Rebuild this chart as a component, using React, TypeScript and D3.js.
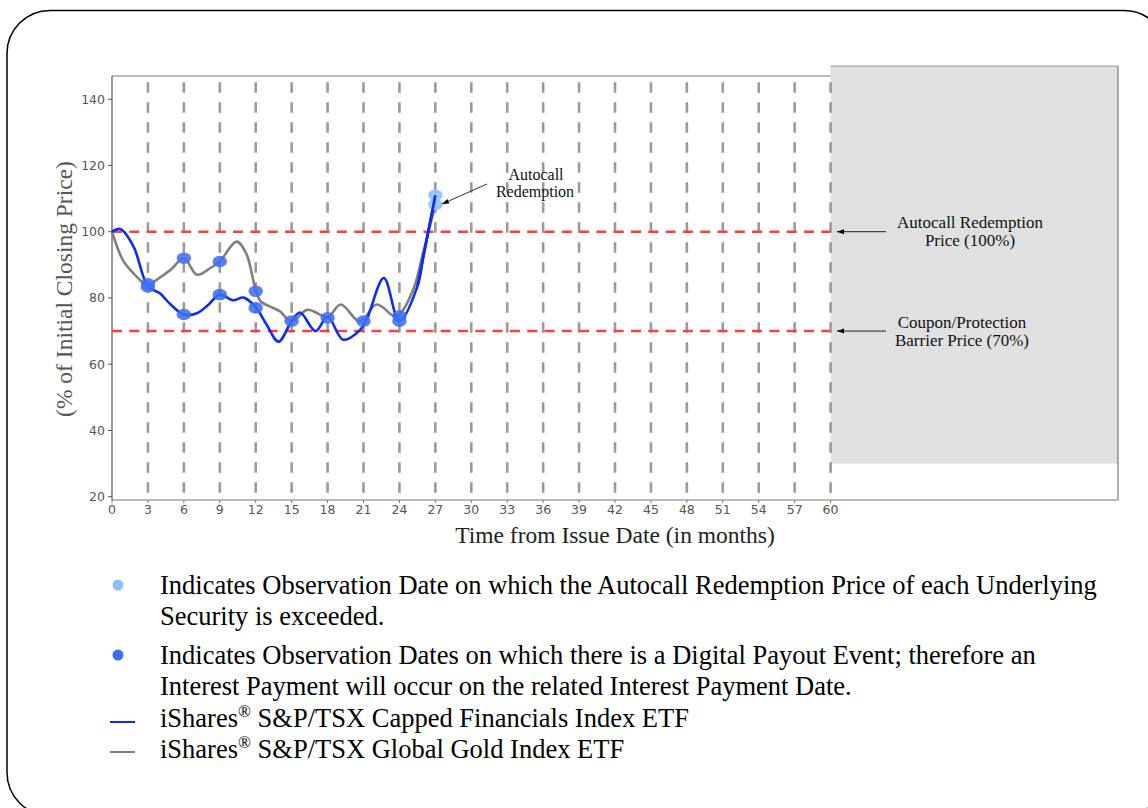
import React, { useEffect } from 'react';
import * as d3 from 'd3';

// ---------- data ----------
const xTicks = [0, 3, 6, 9, 12, 15, 18, 21, 24, 27, 30, 33, 36, 39, 42, 45, 48, 51, 54, 57, 60];
const yTicks = [20, 40, 60, 80, 100, 120, 140];

const financialsMonths = [0, 0.7, 1.8, 3, 4, 4.9, 6, 7.1, 8, 9, 10.1, 11, 12, 12.9, 13.9, 15, 15.7, 17, 18, 19.3, 20.7, 21.3, 22.7, 24, 25.5, 26, 27];
const financialsValues = [100, 100.8, 95.5, 83.5, 81.4, 78, 75, 75.4, 77.8, 81, 79.3, 80.1, 77.2, 72, 66.8, 73, 75.6, 70, 74.3, 67.4, 70.3, 73.8, 86, 73, 83.5, 92.5, 111];

const goldMonths = [0, 0.9, 1.8, 3, 3.7, 4.9, 6, 7.1, 8.2, 9, 10.4, 11.2, 12, 12.4, 13.5, 14, 15, 16.3, 18, 19.1, 20.7, 22.1, 23.6, 24, 25.2, 26, 27];
const goldValues = [100, 91.5, 87.4, 83.8, 85.4, 88.5, 92, 87, 89, 91, 97, 93.5, 82.4, 79, 76.9, 76, 72.9, 76.4, 74.3, 78, 72.9, 78, 74.4, 75, 83, 94, 108];

const payoutMonths = [3, 3, 6, 6, 9, 9, 12, 12, 15, 18, 21, 24, 24];
const payoutValues = [83.3, 84.3, 92, 75, 91, 81, 82, 77, 73, 74, 73, 74.5, 73];

const autocallMonths = [27, 27];
const autocallValues = [111, 108.2];

const autocallLevel = 100;
const barrierLevel = 70;
const shadeFrom = 60;
const shadeLow = 30;
const shadeHigh = 150;

const legendItems = [
  'Indicates Observation Date on which the Autocall Redemption Price of each Underlying',
  'Security is exceeded.',
  'Indicates Observation Dates on which there is a Digital Payout Event; therefore an',
  'Interest Payment will occur on the related Interest Payment Date.',
];
const seriesNames = [' S&P/TSX Capped Financials Index ETF', ' S&P/TSX Global Gold Index ETF'];

// ---------- chart ----------
const SERIF = '"Liberation Serif", "Times New Roman", serif';
const SANS = '"DejaVu Sans", sans-serif';

export default function App() {
  useEffect(() => {
    document.body.style.margin = '0';
  }, []);

  const x = d3.scaleLinear().domain([0, 84]).range([112, 1118]);
  const y = d3.scaleLinear().domain([19, 147]).range([500, 76]);

  const line = d3
    .line<[number, number]>()
    .x((d) => x(d[0]))
    .y((d) => y(d[1]))
    .curve(d3.curveCatmullRom.alpha(0.5));

  const finPts: [number, number][] = financialsMonths.map((m, i) => [m, financialsValues[i]]);
  const goldPts: [number, number][] = goldMonths.map((m, i) => [m, goldValues[i]]);

  const [x0, x1] = x.range();
  const [yb, yt] = y.range();

  return (
    <svg width={1148} height={808} style={{ position: 'absolute', left: 0, top: 0, background: '#fff' }}>
      <defs>
        <marker id="arr" viewBox="0 0 10 10" refX="10" refY="5" markerWidth="7" markerHeight="7" orient="auto-start-reverse" markerUnits="userSpaceOnUse">
          <path d="M0,1.5 L10,5 L0,8.5 Z" fill="#000" />
        </marker>
      </defs>

      {/* outer rounded frame */}
      <rect x={7} y={10.5} width={1160} height={805} rx={43} ry={43} fill="none" stroke="#000" strokeWidth={1.5} />

      {/* shaded region */}
      <rect
        x={x(shadeFrom)}
        y={y(shadeHigh)}
        width={x1 - x(shadeFrom)}
        height={y(shadeLow) - y(shadeHigh)}
        fill="#e0e0e0"
      />
      <line x1={x(shadeFrom)} x2={x1} y1={y(shadeHigh)} y2={y(shadeHigh)} stroke="#999" strokeWidth={1} />

      {/* spines */}
      <line x1={x0} x2={x(shadeFrom)} y1={yt} y2={yt} stroke="#777" strokeWidth={1} />
      <line x1={x0} x2={x0} y1={yt} y2={yb} stroke="#555" strokeWidth={1.2} />
      <line x1={x0} x2={x1} y1={yb} y2={yb} stroke="#777" strokeWidth={1.2} />
      <line x1={x1} x2={x1} y1={y(shadeHigh)} y2={yb} stroke="#777" strokeWidth={1.2} />

      {/* vertical dashed observation lines */}
      {xTicks.filter((t) => t > 0).map((t) => (
        <line
          key={'v' + t}
          x1={x(t)}
          x2={x(t)}
          y1={yb}
          y2={yt}
          stroke="#9a9a9a"
          strokeWidth={2.6}
          strokeDasharray="10.5,9.5"
          strokeDashoffset={12.7}
        />
      ))}

      {/* barrier lines */}
      {[autocallLevel, barrierLevel].map((lv) => (
        <line
          key={'h' + lv}
          x1={x0}
          x2={x(shadeFrom)}
          y1={y(lv)}
          y2={y(lv)}
          stroke="#ff3d3d"
          strokeWidth={2.6}
          strokeDasharray="10,7.3"
        />
      ))}

      {/* series lines */}
      <path d={line(goldPts) || ''} fill="none" stroke="#7f7f7f" strokeWidth={2.6} />
      <path d={line(finPts) || ''} fill="none" stroke="#0b2cf2" strokeWidth={2.6} />

      {/* dots */}
      {payoutMonths.map((m, i) => (
        <ellipse key={'p' + i} cx={x(m)} cy={y(payoutValues[i])} rx={7.2} ry={5.8} fill="#3d6ff0" fillOpacity={0.88} />
      ))}
      {autocallMonths.map((m, i) => (
        <ellipse key={'a' + i} cx={x(m)} cy={y(autocallValues[i])} rx={7.2} ry={5.8} fill="#8ec1f6" fillOpacity={0.9} />
      ))}
      <path d={line(finPts.slice(-3)) || ''} fill="none" stroke="#0b2cf2" strokeWidth={2.6} />

      {/* y axis ticks */}
      {yTicks.map((t) => (
        <g key={'yt' + t}>
          <line x1={x0 - 4} x2={x0} y1={y(t)} y2={y(t)} stroke="#555" strokeWidth={1} />
          <text x={x0 - 7} y={y(t)} dy="0.36em" textAnchor="end" fontFamily={SANS} fontSize={12.5} fill="#555">
            {t}
          </text>
        </g>
      ))}
      {/* x axis ticks */}
      {xTicks.map((t) => (
        <g key={'xt' + t}>
          <line x1={x(t)} x2={x(t)} y1={yb} y2={yb + 3} stroke="#777" strokeWidth={1} />
          <text x={x(t)} y={514} textAnchor="middle" fontFamily={SANS} fontSize={12.5} fill="#555">
            {t}
          </text>
        </g>
      ))}

      {/* axis titles */}
      <text x={615} y={543} textAnchor="middle" fontFamily={SERIF} fontSize={23.5} fill="#222">
        Time from Issue Date (in months)
      </text>
      <text
        transform="translate(72,289) rotate(-90)"
        textAnchor="middle"
        fontFamily={SERIF}
        fontSize={23.5}
        fill="#555"
      >
        (% of Initial Closing Price)
      </text>

      {/* annotations */}
      <text x={536} y={180} textAnchor="middle" fontFamily={SERIF} fontSize={16} fill="#111">
        Autocall
      </text>
      <text x={535} y={197} textAnchor="middle" fontFamily={SERIF} fontSize={16} fill="#111">
        Redemption
      </text>
      <line x1={487} y1={184} x2={442} y2={204} stroke="#333" strokeWidth={1} markerEnd="url(#arr)" />

      <text x={970} y={227.5} textAnchor="middle" fontFamily={SERIF} fontSize={17} fill="#111">
        Autocall Redemption
      </text>
      <text x={970} y={246} textAnchor="middle" fontFamily={SERIF} fontSize={17} fill="#111">
        Price (100%)
      </text>
      <line x1={886} y1={y(autocallLevel)} x2={837} y2={y(autocallLevel)} stroke="#222" strokeWidth={1} markerEnd="url(#arr)" />

      <text x={962} y={327.5} textAnchor="middle" fontFamily={SERIF} fontSize={17} fill="#111">
        Coupon/Protection
      </text>
      <text x={962} y={346} textAnchor="middle" fontFamily={SERIF} fontSize={17} fill="#111">
        Barrier Price (70%)
      </text>
      <line x1={886} y1={y(barrierLevel)} x2={837} y2={y(barrierLevel)} stroke="#222" strokeWidth={1} markerEnd="url(#arr)" />

      {/* legend */}
      <circle cx={118} cy={585} r={5.5} fill="#8ec1f6" />
      <circle cx={118} cy={655} r={5.5} fill="#3d6ff0" />
      <text x={160} y={594} fontFamily={SERIF} fontSize={26.5} fill="#000">{legendItems[0]}</text>
      <text x={160} y={625} fontFamily={SERIF} fontSize={26.5} fill="#000">{legendItems[1]}</text>
      <text x={160} y={664} fontFamily={SERIF} fontSize={26.5} fill="#000">{legendItems[2]}</text>
      <text x={160} y={695} fontFamily={SERIF} fontSize={26.5} fill="#000">{legendItems[3]}</text>

      <line x1={110} x2={135} y1={722} y2={722} stroke="#0b2cf2" strokeWidth={2} />
      <text x={160} y={727} fontFamily={SERIF} fontSize={26.5} fill="#000">
        {'iShares'}
        <tspan fontSize={17} dy={-10}>{'®'}</tspan>
        <tspan dy={10}>{seriesNames[0]}</tspan>
      </text>
      <line x1={110} x2={135} y1={752} y2={752} stroke="#7f7f7f" strokeWidth={2} />
      <text x={160} y={758} fontFamily={SERIF} fontSize={26.5} fill="#000">
        {'iShares'}
        <tspan fontSize={17} dy={-10}>{'®'}</tspan>
        <tspan dy={10}>{seriesNames[1]}</tspan>
      </text>
    </svg>
  );
}
